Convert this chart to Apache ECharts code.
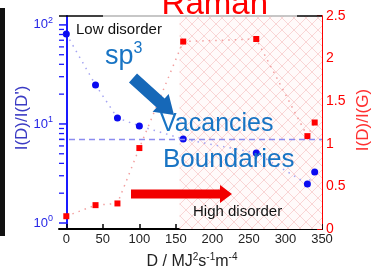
<!DOCTYPE html>
<html>
<head>
<meta charset="utf-8">
<script src="https://cdn.jsdelivr.net/npm/echarts/dist/echarts.min.js"></script>
<style>
html,body{margin:0;padding:0;background:#fff;}
#chart{width:374px;height:271px;}
</style>
</head>
<body>
<div id="chart"></div>
<script>
// ---- data ----
const doseValues = [0, 40, 70, 100, 160, 260, 330, 340];
const ratioDDprime = [81, 24.8, 11.5, 9.55, 7.05, 5.1, 2.48, 3.27];
const ratioDG = [0.15, 0.28, 0.30, 0.95, 2.20, 2.23, 1.09, 1.25];
const xTickValues = [0, 50, 100, 150, 200, 250, 300, 350];
const leftMinorTicks = [2, 3, 4, 5, 6, 7, 8, 9, 20, 30, 40, 50, 60, 70, 80, 90];
const leftMajorTicks = [1, 10, 100];
const thresholdDDprime = 7.05;
const hatchStart = 155;
const hatchEnd = 350;
const xMin = -10, xMax = 350;

const FONT = "'Liberation Sans', Arial, sans-serif";
const BLUE_PT = '#0a0af0';
const BLUE_AX = '#1a1aff';
const BLUE_TXT = '#1874c4';
const RED = '#ff0000';

// crosshatch pattern
const pat = document.createElement('canvas');
pat.width = 12; pat.height = 12;
(function(){
  const c = pat.getContext('2d');
  c.fillStyle = '#fffafa';
  c.fillRect(0,0,12,12);
  c.strokeStyle = 'rgba(236,130,130,0.30)';
  c.lineWidth = 1;
  c.beginPath();
  c.moveTo(0,0); c.lineTo(12,12);
  c.moveTo(12,0); c.lineTo(0,12);
  c.stroke();
})();

function arrowPoly(sx, sy, tx, ty, shaftHalf, headLen, headHalf){
  const dx = tx - sx, dy = ty - sy, L = Math.hypot(dx, dy);
  const ux = dx / L, uy = dy / L, nx = -uy, ny = ux;
  const bx = tx - headLen * ux, by = ty - headLen * uy;
  return [
    [sx + shaftHalf*nx, sy + shaftHalf*ny],
    [bx + shaftHalf*nx, by + shaftHalf*ny],
    [bx + headHalf*nx, by + headHalf*ny],
    [tx, ty],
    [bx - headHalf*nx, by - headHalf*ny],
    [bx - shaftHalf*nx, by - shaftHalf*ny],
    [sx - shaftHalf*nx, sy - shaftHalf*ny]
  ];
}

function tickRenderer(len, width){
  return function(params, api){
    const p = api.coord([api.value(0), api.value(1)]);
    return {
      type: 'line',
      shape: {x1: p[0], y1: p[1], x2: p[0] + len, y2: p[1]},
      style: {stroke: BLUE_AX, lineWidth: width}
    };
  };
}

const chart = echarts.init(document.getElementById('chart'), null, {renderer: 'canvas'});

const option = {
  animation: false,
  textStyle: {fontFamily: FONT},
  grid: {left: 59, right: 52, top: 16, bottom: 42, containLabel: false},
  xAxis: {
    type: 'value', min: xMin, max: xMax,
    axisLine: {lineStyle: {color: '#000', width: 2}},
    axisTick: {inside: true, length: 5, customValues: xTickValues, lineStyle: {color: '#000', width: 1.5}},
    axisLabel: {customValues: xTickValues, color: '#222', fontSize: 13, margin: 4, fontFamily: FONT},
    splitLine: {show: false}
  },
  yAxis: [
    {
      type: 'log', logBase: 10, min: 0.87, max: 123, position: 'left',
      axisLine: {show: true, lineStyle: {color: BLUE_AX, width: 2}},
      axisTick: {show: false},
      axisLabel: {
        margin: 6, showMinLabel: false, showMaxLabel: false,
        formatter: function(v){
          const e = Math.log10(v);
          if (Math.abs(e - Math.round(e)) > 1e-6) return '';
          return '{b|10}{s|' + Math.round(e) + '}';
        },
        rich: {
          b: {fontSize: 13, color: '#2626e6', fontFamily: FONT},
          s: {fontSize: 9, color: '#2626e6', fontFamily: FONT, padding: [0,0,9,0]}
        }
      },
      splitLine: {show: false}
    },
    {
      type: 'value', min: 0, max: 2.5, interval: 0.5, position: 'right',
      axisLine: {show: true, lineStyle: {color: RED, width: 2}},
      axisTick: {show: true, inside: true, length: 5, lineStyle: {color: RED, width: 1.5}},
      axisLabel: {color: RED, fontSize: 14, margin: 4, fontFamily: FONT},
      splitLine: {show: false}
    }
  ],
  series: [
    {
      name: 'I(D)/I(G)', type: 'line', yAxisIndex: 1,
      data: doseValues.map((x, i) => [x, ratioDG[i]]),
      symbol: 'rect', symbolSize: 6,
      itemStyle: {color: RED},
      lineStyle: {color: '#f2a0a0', width: 1.5, type: [1.5, 5]},
      z: 3,
      markArea: {
        silent: true,
        itemStyle: {color: {image: pat, repeat: 'repeat'}, opacity: 1, borderWidth: 0},
        data: [[{xAxis: hatchStart}, {xAxis: hatchEnd}]]
      }
    },
    {
      name: "I(D)/I(D')", type: 'line', yAxisIndex: 0,
      data: doseValues.map((x, i) => [x, ratioDDprime[i]]),
      symbol: 'circle', symbolSize: 7,
      itemStyle: {color: BLUE_PT},
      lineStyle: {color: '#a4a4f2', width: 1.5, type: [1.5, 5]},
      z: 4,
      markLine: {
        silent: true, symbol: 'none',
        label: {show: false},
        lineStyle: {color: '#8c8cf0', width: 1.3, type: [6, 4]},
        data: [{yAxis: thresholdDDprime}]
      }
    },
    {
      name: 'minor ticks', type: 'custom', yAxisIndex: 0, silent: true, clip: false,
      data: leftMinorTicks.map(v => [xMin, v]),
      renderItem: tickRenderer(5, 1.3),
      encode: {x: 0, y: 1}, z: 8
    },
    {
      name: 'major ticks', type: 'custom', yAxisIndex: 0, silent: true, clip: false,
      data: leftMajorTicks.map(v => [xMin, v]),
      renderItem: tickRenderer(7, 1.5),
      encode: {x: 0, y: 1}, z: 8
    }
  ],
  graphic: [
    {type: 'rect', left: 0, top: 8, shape: {width: 5, height: 228}, style: {fill: '#111'}, z: 10},
    {type: 'line', shape: {x1: 59, y1: 16, x2: 103, y2: 16}, style: {stroke: '#000', lineWidth: 1.5}, z: 10},
    {type: 'line', shape: {x1: 103, y1: 16, x2: 297, y2: 16}, style: {stroke: '#b4b4b4', lineWidth: 1.5}, z: 10},
    {type: 'line', shape: {x1: 297, y1: 16, x2: 322, y2: 16}, style: {stroke: '#000', lineWidth: 1.5}, z: 10},
    {type: 'text', x: 268, y: 5, z: 20,
      style: {text: 'Raman', fill: RED, font: '33px ' + FONT, textAlign: 'right', textVerticalAlign: 'middle'}},
    {type: 'text', x: 76, y: 30, z: 20,
      style: {text: 'Low disorder', fill: '#111', font: '15px ' + FONT, textAlign: 'left', textVerticalAlign: 'middle'}},
    {type: 'text', x: 193, y: 212, z: 20,
      style: {text: 'High disorder', fill: '#111', font: '15px ' + FONT, textAlign: 'left', textVerticalAlign: 'middle'}},
    {type: 'text', x: 105, y: 57, z: 20,
      style: {text: '{a|sp}{b|3}', textAlign: 'left', textVerticalAlign: 'middle',
        rich: {a: {fontSize: 27, fill: BLUE_TXT, color: BLUE_TXT, fontFamily: FONT},
               b: {fontSize: 16, fill: BLUE_TXT, color: BLUE_TXT, fontFamily: FONT, padding: [0,0,16,0]}}}},
    {type: 'text', x: 160, y: 124, z: 20,
      style: {text: 'Vacancies', fill: BLUE_TXT, font: '25px ' + FONT, textAlign: 'left', textVerticalAlign: 'middle'}},
    {type: 'text', x: 163, y: 160, z: 20,
      style: {text: 'Boundaries', fill: BLUE_TXT, font: '26px ' + FONT, textAlign: 'left', textVerticalAlign: 'middle'}},
    {type: 'polygon', z: 15, shape: {points: arrowPoly(133, 78, 174, 115, 6, 18, 12)}, style: {fill: '#1668b8'}},
    {type: 'polygon', z: 15, shape: {points: arrowPoly(131, 194, 232, 194, 4.5, 12, 9)}, style: {fill: '#f20000'}},
    {type: 'text', x: 22, y: 118, rotation: Math.PI / 2, z: 20,
      style: {text: "I(D)/I(D')", fill: '#3b3bc4', font: '17px ' + FONT, textAlign: 'center', textVerticalAlign: 'middle'}},
    {type: 'text', x: 363, y: 120, rotation: Math.PI / 2, z: 20,
      style: {text: 'I(D)/I(G)', fill: '#ff3030', font: '17px ' + FONT, textAlign: 'center', textVerticalAlign: 'middle'}},
    {type: 'text', x: 192, y: 262, z: 20,
      style: {text: '{n|D / MJ}{s|2}{n|s}{s|-1}{n|m}{s|-4}', textAlign: 'center', textVerticalAlign: 'middle',
        rich: {n: {fontSize: 16, color: '#222', fill: '#222', fontFamily: FONT},
               s: {fontSize: 10, color: '#222', fill: '#222', fontFamily: FONT, padding: [0,0,9,0]}}}}
  ]
};
chart.setOption(option);
</script>
</body>
</html>
